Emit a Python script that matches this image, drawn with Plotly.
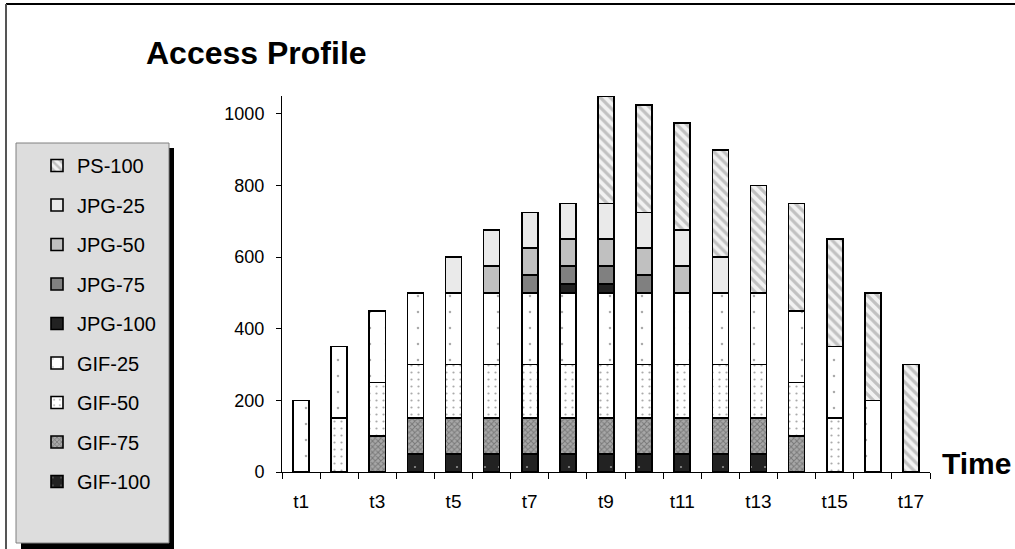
import plotly.graph_objects as go

# ---- data -------------------------------------------------------------
times = [f"t{i}" for i in range(1, 18)]

gif_100 = [None, None, None, 50, 50, 50, 50, 50, 50, 50, 50, 50, 50, None, None, None, None]
gif_75 = [None, None, 100, 100, 100, 100, 100, 100, 100, 100, 100, 100, 100, 100, None, None, None]
gif_50 = [None, 150, 150, 150, 150, 150, 150, 150, 150, 150, 150, 150, 150, 150, 150, None, None]
gif_25 = [200, 200, 200, 200, 200, 200, 200, 200, 200, 200, 200, 200, 200, 200, 200, 200, None]
jpg_100 = [None, None, None, None, None, None, None, 25, 25, None, None, None, None, None, None, None, None]
jpg_75 = [None, None, None, None, None, None, 50, 50, 50, 50, None, None, None, None, None, None, None]
jpg_50 = [None, None, None, None, None, 75, 75, 75, 75, 75, 75, None, None, None, None, None, None]
jpg_25 = [None, None, None, None, 100, 100, 100, 100, 100, 100, 100, 100, None, None, None, None, None]
ps_100 = [None, None, None, None, None, None, None, None, 300, 300, 300, 300, 300, 300, 300, 300, 300]

tick_labels = [t if i % 2 == 0 else "" for i, t in enumerate(times)]
y_ticks = [0, 200, 400, 600, 800, 1000]

# ---- page geometry (pixels) -------------------------------------------
W, H = 1015, 549
L, R, T, B = 282, 930, 96, 472


def px(x):
    return (x - L) / (R - L)


def py(y):
    return (B - y) / (B - T)


FONT = "Arial, Liberation Sans, sans-serif"

# bottom-to-top stacking order, each with its fill style
series = [
    ("GIF-100", gif_100, dict(color="#222222", pattern=dict(shape=".", fgcolor="#ffffff", bgcolor="#222222", size=14, solidity=0.02))),
    ("GIF-75", gif_75, dict(color="#8a8a8a", pattern=dict(shape="x", fgcolor="#4a4a4a", bgcolor="#a8a8a8", size=4, solidity=0.45))),
    ("GIF-50", gif_50, dict(color="#ffffff", pattern=dict(shape=".", fgcolor="#555555", bgcolor="#ffffff", size=7, solidity=0.08))),
    ("GIF-25", gif_25, dict(color="#ffffff", pattern=dict(shape=".", fgcolor="#555555", bgcolor="#ffffff", size=16, solidity=0.02))),
    ("JPG-100", jpg_100, dict(color="#222222")),
    ("JPG-75", jpg_75, dict(color="#808080")),
    ("JPG-50", jpg_50, dict(color="#c0c0c0")),
    ("JPG-25", jpg_25, dict(color="#eaeaea")),
    ("PS-100", ps_100, dict(color="#e6e6e6", pattern=dict(shape="\\", fgcolor="#8f8f8f", bgcolor="#f2f2f2", size=7, solidity=0.45))),
]

fig = go.Figure()
for i, (name, values, style) in enumerate(series):
    fig.add_trace(go.Bar(
        x=times,
        y=values,
        name=name,
        legendgroup=name,
        legendrank=1000 - i,
        marker=dict(line=dict(color="#000000", width=1.6), **style),
    ))

fig.update_layout(
    width=W,
    height=H,
    barmode="stack",
    bargap=0.58,
    paper_bgcolor="#ffffff",
    plot_bgcolor="#ffffff",
    margin=dict(l=L, r=W - R, t=T, b=H - B, pad=0),
    font=dict(family=FONT, color="#000000", size=19),
    title=dict(
        text="<b>Access Profile</b>",
        font=dict(size=32, family=FONT, color="#000000"),
        x=146 / W, xanchor="left", xref="container",
        y=1 - 53 / H, yanchor="middle", yref="container",
    ),
    showlegend=True,
    legend=dict(
        x=px(37), xanchor="left",
        y=py(146), yanchor="top",
        bgcolor="rgba(0,0,0,0)",
        borderwidth=0,
        font=dict(size=20, family=FONT, color="#000000"),
        traceorder="grouped",
        tracegroupgap=10.5,
        maxheight=600,
    ),
    xaxis=dict(
        type="category",
        tickmode="array",
        tickvals=times,
        ticktext=tick_labels,
        tickson="boundaries",
        ticks="outside",
        ticklen=6,
        tickcolor="#000000",
        showline=True,
        linecolor="#000000",
        linewidth=1,
        showgrid=False,
        zeroline=False,
        tickfont=dict(size=19, family=FONT),
        ticklabelstandoff=12,
    ),
    yaxis=dict(
        range=[0, 1050],
        tickvals=y_ticks,
        ticks="outside",
        ticklen=5,
        tickcolor="#000000",
        showline=True,
        linecolor="#000000",
        linewidth=1,
        showgrid=False,
        zeroline=False,
        tickfont=dict(size=18, family=FONT),
        ticklabelstandoff=8,
    ),
    shapes=[
        # outer frame: top and left edges
        dict(type="line", xref="paper", yref="paper", x0=px(6), x1=px(W + 10), y0=py(4), y1=py(4),
             line=dict(color="#000000", width=2), layer="below"),
        dict(type="line", xref="paper", yref="paper", x0=px(6), x1=px(6), y0=py(4), y1=py(H + 10),
             line=dict(color="#555555", width=2), layer="below"),
        # legend panel shadow and panel
        dict(type="rect", xref="paper", yref="paper", x0=px(21), x1=px(174), y0=py(148), y1=py(H + 10),
             fillcolor="#000000", line=dict(width=0), layer="below"),
        dict(type="rect", xref="paper", yref="paper", x0=px(16), x1=px(169), y0=py(143), y1=py(543),
             fillcolor="#dddddd", line=dict(color="#808080", width=1), layer="below"),
    ],
    annotations=[
        dict(text="<b>Time</b>", xref="paper", yref="paper", x=px(940), y=py(463),
             xanchor="left", yanchor="middle", showarrow=False,
             font=dict(size=30, family=FONT, color="#000000")),
    ],
)

fig.write_html("out.html")
